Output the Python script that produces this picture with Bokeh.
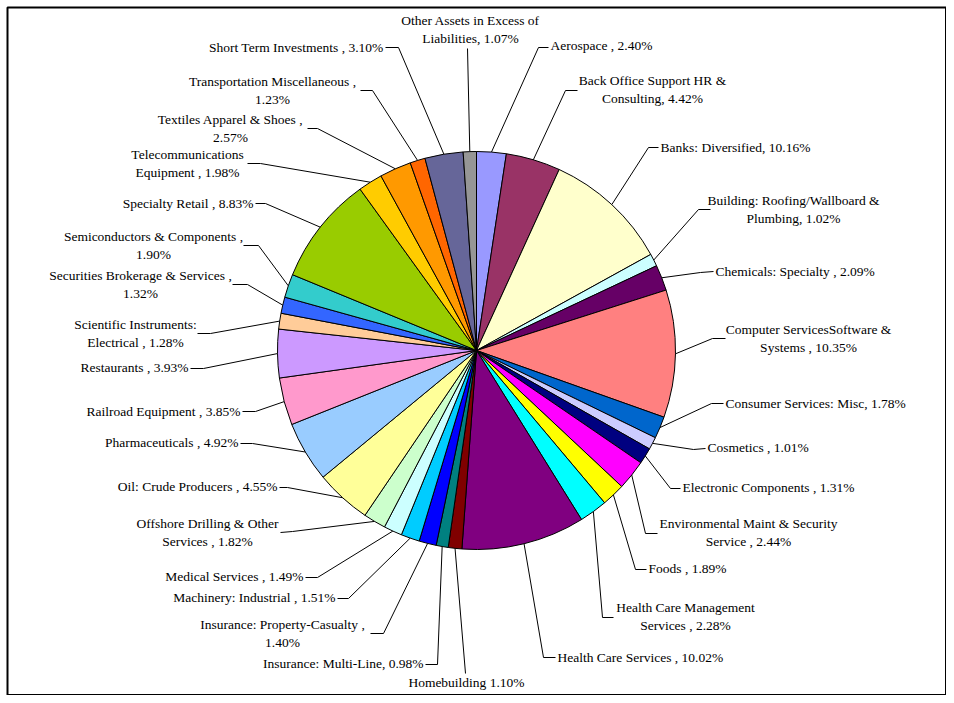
import math
from bokeh.plotting import figure
from bokeh.models import Range1d
from bokeh.embed import file_html
from bokeh.resources import INLINE
from bokeh.core.properties import value

# ---------------- data ----------------
categories = [
    "Aerospace", "Back Office Support HR & Consulting", "Banks: Diversified",
    "Building: Roofing/Wallboard & Plumbing", "Chemicals: Specialty",
    "Computer ServicesSoftware & Systems", "Consumer Services: Misc", "Cosmetics",
    "Electronic Components", "Environmental Maint & Security Service", "Foods",
    "Health Care Management Services", "Health Care Services", "Homebuilding",
    "Insurance: Multi-Line", "Insurance: Property-Casualty", "Machinery: Industrial",
    "Medical Services", "Offshore Drilling & Other Services", "Oil: Crude Producers",
    "Pharmaceuticals", "Railroad Equipment", "Restaurants",
    "Scientific Instruments: Electrical", "Securities Brokerage & Services",
    "Semiconductors & Components", "Specialty Retail", "Telecommunications Equipment",
    "Textiles Apparel & Shoes", "Transportation Miscellaneous",
    "Short Term Investments", "Other Assets in Excess of Liabilities",
]
weights = [
    2.40, 4.42, 10.16, 1.02, 2.09, 10.35, 1.78, 1.01, 1.31, 2.44, 1.89, 2.28,
    10.02, 1.10, 0.98, 1.40, 1.51, 1.49, 1.82, 4.55, 4.92, 3.85, 3.93, 1.28,
    1.32, 1.90, 8.83, 1.98, 2.57, 1.23, 3.10, 1.07,
]
# label wording as shown (placeholder {} receives the percentage)
label_templates = [
    ["Aerospace , {}"],
    ["Back Office Support HR &", "Consulting, {}"],
    ["Banks: Diversified, {}"],
    ["Building: Roofing/Wallboard &", "Plumbing, {}"],
    ["Chemicals: Specialty , {}"],
    ["Computer ServicesSoftware &", "Systems , {}"],
    ["Consumer Services: Misc, {}"],
    ["Cosmetics , {}"],
    ["Electronic Components , {}"],
    ["Environmental Maint & Security", "Service , {}"],
    ["Foods , {}"],
    ["Health Care Management", "Services , {}"],
    ["Health Care Services , {}"],
    ["Homebuilding {}"],
    ["Insurance: Multi-Line, {}"],
    ["Insurance: Property-Casualty ,", "{}"],
    ["Machinery: Industrial , {}"],
    ["Medical Services , {}"],
    ["Offshore Drilling & Other", "Services , {}"],
    ["Oil: Crude Producers , {}"],
    ["Pharmaceuticals , {}"],
    ["Railroad Equipment , {}"],
    ["Restaurants , {}"],
    ["Scientific Instruments:", "Electrical , {}"],
    ["Securities Brokerage & Services ,", "{}"],
    ["Semiconductors & Components ,", "{}"],
    ["Specialty Retail , {}"],
    ["Telecommunications", "Equipment , {}"],
    ["Textiles Apparel & Shoes ,", "{}"],
    ["Transportation Miscellaneous ,", "{}"],
    ["Short Term Investments , {}"],
    ["Other Assets in Excess of", "Liabilities, {}"],
]

# ---------------- styles ----------------
colors = [
    "#9999FF", "#993366", "#FFFFCC", "#CCFFFF", "#660066", "#FF8080", "#0066CC", "#CCCCFF",
    "#000080", "#FF00FF", "#FFFF00", "#00FFFF", "#800080", "#800000", "#008080", "#0000FF",
    "#00CCFF", "#CCFFFF", "#CCFFCC", "#FFFF99", "#99CCFF", "#FF99CC", "#CC99FF", "#FFCC99",
    "#3366FF", "#33CCCC", "#99CC00", "#FFCC00", "#FF9900", "#FF6600", "#666699", "#969696",
]

# ---------------- layout (page pixels) ----------------
PIE_CX, PIE_CY, PIE_R = 476, 350, 199
# (text x, first line center y, align, attach x, attach y, elbow x, elbow y)
label_layout = [
    (550, 45, "left", 548, 47, 538, 47),
    (652, 80, "center", 577, 90, 565, 90),
    (660, 147, "left", 658, 147, 648, 147),
    (793, 200, "center", 710, 209, 698, 209),
    (715, 271, "left", 713, 271, 700, 272),
    (808, 329, "center", 725, 338, 712, 338),
    (725, 403, "left", 723, 403, 711, 403),
    (707, 447, "left", 705, 448, 693, 449),
    (682, 487, "left", 680, 488, 670, 488),
    (748, 523, "center", 657, 533, 645, 533),
    (648, 568, "left", 646, 569, 635, 569),
    (685, 607, "center", 613, 617, 602, 617),
    (557, 657, "left", 555, 657, 543, 657),
    (466, 682, "center", 465, 673, 465, 673),
    (423, 663, "right", 425, 664, 437, 664),
    (282, 624, "center", 370, 633, 383, 633),
    (335, 597, "right", 337, 598, 348, 598),
    (303, 576, "right", 305, 577, 317, 577),
    (207, 523, "center", 280, 532, 292, 531),
    (277, 486, "right", 279, 487, 287, 487),
    (238, 442, "right", 240, 443, 252, 443),
    (240, 411, "right", 242, 411, 255, 411),
    (188, 367, "right", 190, 368, 203, 368),
    (135, 324, "center", 197, 333, 210, 333),
    (140, 275, "center", 232, 284, 247, 284),
    (153, 236, "center", 243, 245, 258, 245),
    (253, 203, "right", 255, 203, 265, 203),
    (187, 154, "center", 247, 163, 260, 163),
    (230, 119, "center", 307, 128, 317, 128),
    (272, 81, "center", 360, 90, 372, 90),
    (383, 47, "right", 385, 47, 398, 47),
    (470, 20, "center", 467, 48, 467, 48),
]
LINE_H = 17.5
FONT = "Liberation Serif"

W, H = 946, 695


def Y(py):
    return 703 - py


p = figure(width=W, height=H, x_range=Range1d(0, W), y_range=Range1d(Y(H), Y(0)),
           output_backend="svg", toolbar_location=None, min_border=0,
           x_axis_location=None, y_axis_location=None, outline_line_color=None,
           background_fill_color="white", border_fill_color="white")
p.xgrid.visible = False
p.ygrid.visible = False

total = sum(weights)
starts, ends, mids = [], [], []
cum = 0.0
for w in weights:
    a0 = math.pi / 2 - 2 * math.pi * cum / total
    cum += w
    a1 = math.pi / 2 - 2 * math.pi * cum / total
    starts.append(a0)
    ends.append(a1)
    mids.append((a0 + a1) / 2)

p.wedge(x=PIE_CX, y=Y(PIE_CY), radius=PIE_R, start_angle=starts, end_angle=ends,
        direction="clock", fill_color=colors, line_color="black", line_width=1)

# leader lines
lx, ly = [], []
for m, lay in zip(mids, label_layout):
    tx, ty, al, ax, ay, ex, ey = lay
    px = PIE_CX + PIE_R * math.cos(m)
    py = Y(PIE_CY) + PIE_R * math.sin(m)
    lx.append([ax, ex, px])
    ly.append([Y(ay), Y(ey), py])
p.multi_line(xs=lx, ys=ly, line_color="black", line_width=1)

# labels
groups = {"left": ([], [], []), "right": ([], [], []), "center": ([], [], [])}
for w, tmpl, lay in zip(weights, label_templates, label_layout):
    tx, ty, al, *_ = lay
    pct = f"{w:.2f}%"
    for i, line in enumerate(tmpl):
        g = groups[al]
        g[0].append(tx)
        g[1].append(Y(ty + i * LINE_H))
        g[2].append(line.format(pct))
for al, (xs, ys, ts) in groups.items():
    p.text(x=xs, y=ys, text=ts, text_align=al, text_baseline="middle",
           text_font=value(FONT), text_font_size="13.5px", text_color="black")

# outer frame
p.quad(left=[7], right=[945.5], bottom=[Y(694.5)], top=[Y(7)], fill_color=None,
       line_color="black", line_width=2)

open("out.html", "w").write(file_html(p, INLINE))
